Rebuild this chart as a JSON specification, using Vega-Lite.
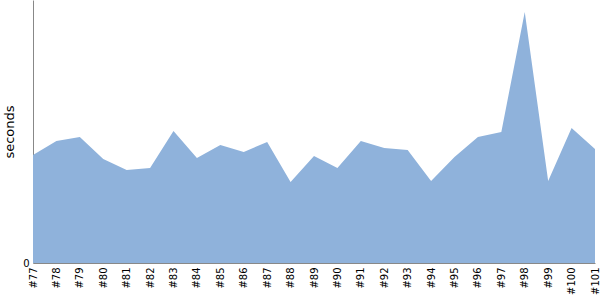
{
  "$schema": "https://vega.github.io/schema/vega-lite/v6.json",
  "width": 562,
  "height": 263,
  "autosize": {"type": "none"},
  "padding": {"left": 33, "top": 0, "right": 5, "bottom": 37},
  "background": "white",
  "config": {
    "view": {"stroke": null},
    "font": "DejaVu Sans"
  },
  "data": {
    "values": [
      {"build": "#77", "seconds": 108},
      {"build": "#78", "seconds": 122},
      {"build": "#79", "seconds": 126},
      {"build": "#80", "seconds": 104},
      {"build": "#81", "seconds": 93},
      {"build": "#82", "seconds": 95},
      {"build": "#83", "seconds": 132},
      {"build": "#84", "seconds": 105},
      {"build": "#85", "seconds": 118},
      {"build": "#86", "seconds": 111},
      {"build": "#87", "seconds": 121},
      {"build": "#88", "seconds": 81},
      {"build": "#89", "seconds": 107},
      {"build": "#90", "seconds": 95},
      {"build": "#91", "seconds": 122},
      {"build": "#92", "seconds": 115},
      {"build": "#93", "seconds": 113},
      {"build": "#94", "seconds": 82},
      {"build": "#95", "seconds": 106},
      {"build": "#96", "seconds": 126},
      {"build": "#97", "seconds": 131},
      {"build": "#98", "seconds": 251},
      {"build": "#99", "seconds": 82},
      {"build": "#100", "seconds": 135},
      {"build": "#101", "seconds": 114}
    ]
  },
  "mark": {"type": "area", "color": "#8fb2db", "opacity": 1},
  "encoding": {
    "x": {
      "field": "build",
      "type": "ordinal",
      "sort": null,
      "scale": {"type": "point", "padding": 0},
      "axis": {
        "title": null,
        "labelAngle": 270,
        "labelAlign": "right",
        "labelBaseline": "middle",
        "labelFontSize": 10,
        "labelColor": "#000",
        "labelPadding": 4,
        "ticks": false,
        "domainColor": "#888",
        "grid": false
      }
    },
    "y": {
      "field": "seconds",
      "type": "quantitative",
      "scale": {"domain": [0, 263], "nice": false},
      "axis": {
        "title": "seconds",
        "titleFontSize": 13,
        "titleFontWeight": "normal",
        "titleColor": "#000",
        "titlePadding": 6,
        "values": [0],
        "labelFontSize": 10,
        "labelColor": "#000",
        "labelPadding": 4,
        "ticks": false,
        "domainColor": "#888",
        "grid": false
      }
    }
  }
}
